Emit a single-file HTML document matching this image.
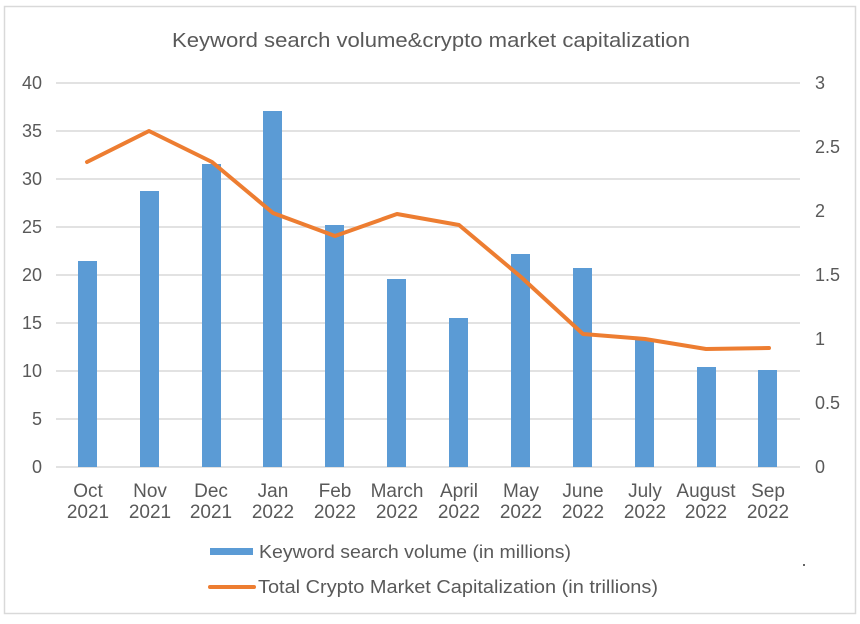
<!DOCTYPE html>
<html><head><style>body{margin:0;background:#fff}</style></head><body>
<svg width="860" height="619" xmlns="http://www.w3.org/2000/svg" font-family="Liberation Sans, sans-serif">
<rect x="0" y="0" width="860" height="619" fill="#fff"/>
<rect x="4.5" y="6.5" width="851" height="607" fill="#fff" stroke="#d9d9d9" stroke-width="1.5"/>
<text x="172" y="47" textLength="518" lengthAdjust="spacingAndGlyphs" font-size="20" fill="#595959">Keyword search volume&amp;crypto market capitalization</text>
<g stroke="#d9d9d9" stroke-width="1.5">
<line x1="56" x2="800" y1="83" y2="83"/><line x1="56" x2="800" y1="131" y2="131"/>
<line x1="56" x2="800" y1="179" y2="179"/><line x1="56" x2="800" y1="227" y2="227"/>
<line x1="56" x2="800" y1="275" y2="275"/><line x1="56" x2="800" y1="323" y2="323"/>
<line x1="56" x2="800" y1="371" y2="371"/><line x1="56" x2="800" y1="419" y2="419"/>
<line x1="56" x2="800" y1="467" y2="467"/>
</g>
<g font-size="18" fill="#595959" text-anchor="end">
<text x="42" y="89">40</text><text x="42" y="137">35</text><text x="42" y="185">30</text>
<text x="42" y="233">25</text><text x="42" y="281">20</text><text x="42" y="329">15</text>
<text x="42" y="377">10</text><text x="42" y="425">5</text><text x="42" y="473">0</text>
</g>
<g font-size="18" fill="#595959">
<text x="815" y="89">3</text><text x="815" y="153">2.5</text><text x="815" y="217">2</text>
<text x="815" y="281">1.5</text><text x="815" y="345">1</text><text x="815" y="409">0.5</text>
<text x="815" y="473">0</text>
</g>
<g fill="#5b9bd5">
<rect x="78" y="261" width="19" height="206"/>
<rect x="140" y="191" width="19" height="276"/>
<rect x="202" y="164" width="19" height="303"/>
<rect x="263" y="111" width="19" height="356"/>
<rect x="325" y="225" width="19" height="242"/>
<rect x="387" y="279" width="19" height="188"/>
<rect x="449" y="318" width="19" height="149"/>
<rect x="511" y="254" width="19" height="213"/>
<rect x="573" y="268" width="19" height="199"/>
<rect x="635" y="339" width="19" height="128"/>
<rect x="697" y="367" width="19" height="100"/>
<rect x="758" y="370" width="19" height="97"/>
</g>
<polyline fill="none" stroke="#ed7d31" stroke-width="4" stroke-linejoin="round" stroke-linecap="round"
points="87,162 149,131 212,162 273,213 335,236 397,214 459,225 521,277 583,334 645,339 706,349 769,348"/>
<g font-size="19" fill="#595959" text-anchor="middle">
<text x="88" y="497">Oct</text><text x="88" y="518">2021</text>
<text x="150" y="497">Nov</text><text x="150" y="518">2021</text>
<text x="211" y="497">Dec</text><text x="211" y="518">2021</text>
<text x="273" y="497">Jan</text><text x="273" y="518">2022</text>
<text x="335" y="497">Feb</text><text x="335" y="518">2022</text>
<text x="397" y="497">March</text><text x="397" y="518">2022</text>
<text x="459" y="497">April</text><text x="459" y="518">2022</text>
<text x="521" y="497">May</text><text x="521" y="518">2022</text>
<text x="583" y="497">June</text><text x="583" y="518">2022</text>
<text x="645" y="497">July</text><text x="645" y="518">2022</text>
<text x="706" y="497">August</text><text x="706" y="518">2022</text>
<text x="768" y="497">Sep</text><text x="768" y="518">2022</text>
</g>
<rect x="210" y="548" width="43" height="7" fill="#5b9bd5"/>
<text x="259" y="558" font-size="18" textLength="312" lengthAdjust="spacingAndGlyphs" fill="#595959">Keyword search volume (in millions)</text>
<line x1="210" x2="254" y1="587" y2="587" stroke="#ed7d31" stroke-width="4" stroke-linecap="round"/>
<text x="258" y="593" font-size="18" textLength="400" lengthAdjust="spacingAndGlyphs" fill="#595959">Total Crypto Market Capitalization (in trillions)</text>
<circle cx="804" cy="565" r="1" fill="#333"/>
</svg>
</body></html>
